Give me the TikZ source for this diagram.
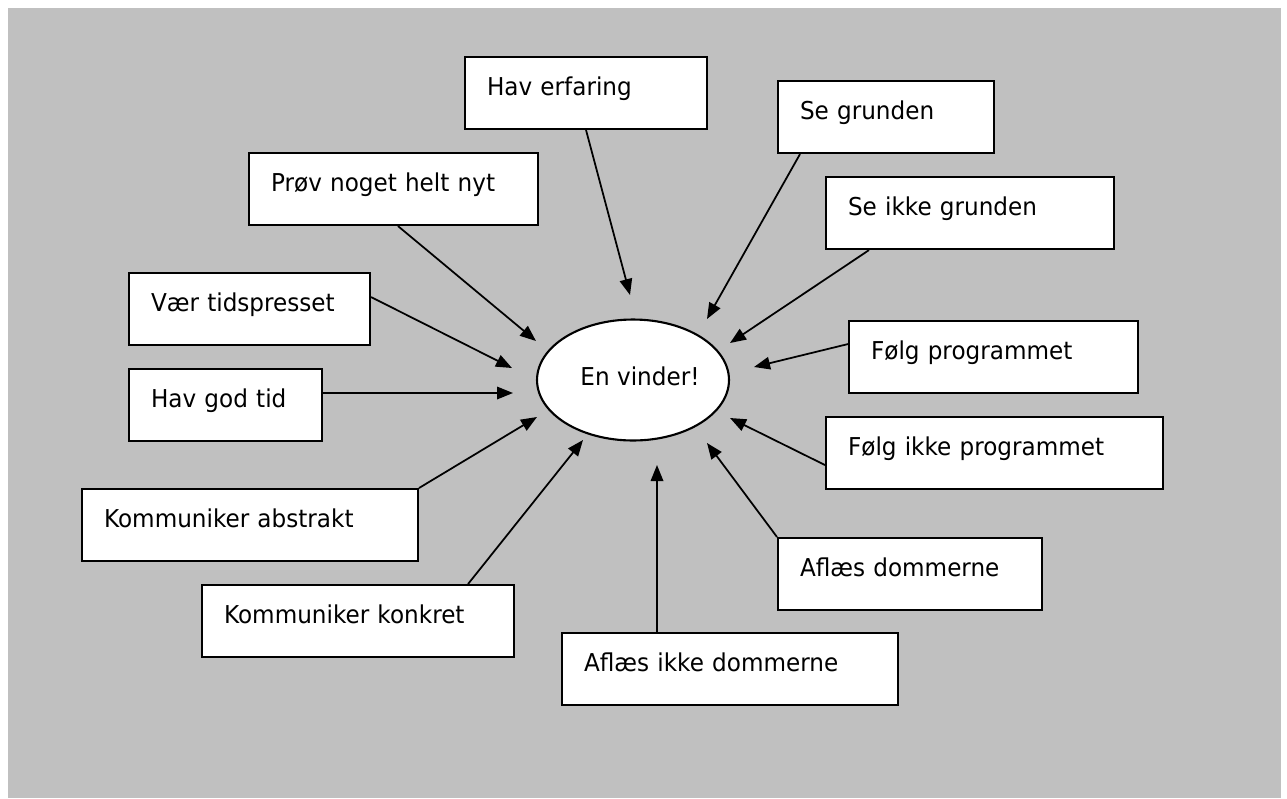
\documentclass[tikz,border=0pt]{standalone}
\usepackage{fontspec}
\setmainfont{DejaVu Sans}[FakeStretch=0.94]
\usetikzlibrary{arrows.meta,shapes.geometric}
\definecolor{baggrund}{RGB}{192,192,192}
\tikzset{
  boks/.style={draw, fill=white, line width=1.2pt, anchor=north west,
    inner xsep=0.44cm, inner ysep=0pt, text height=0.77cm, text depth=0.67cm,
    align=left, text width=#1},
  pil/.style={line width=1pt, -{Triangle[length=0.32cm,width=0.25cm]}}
}
\begin{document}
\begin{tikzpicture}[x=0.02cm, y=-0.02cm, font=\fontsize{14}{17}\selectfont]
        \useasboundingbox (0,0) rectangle (1287,798);
        \fill[baggrund] (8,8) rectangle (1281,798);
        % midten
        \node[draw, fill=white, line width=1.2pt, ellipse, inner sep=0pt, minimum width=3.84cm, minimum height=2.42cm] (vinder) at (633,380) {\raisebox{0.16cm}{\hspace{0.28cm}En vinder!}};
        % boksene
        \node[boks=3.96cm] (erfaring) at (464,56) {Hav erfaring};
        \node[boks=3.44cm] (grunden) at (777,80) {Se grunden};
        \node[boks=4.90cm] (nyt) at (248,152) {Prøv noget helt nyt};
        \node[boks=4.88cm] (ikkegrunden) at (825,176) {Se ikke grunden};
        \node[boks=3.94cm] (presset) at (128,272) {Vær tidspresset};
        \node[boks=4.90cm] (program) at (848,320) {Følg programmet};
        \node[boks=2.98cm] (godtid) at (128,368) {Hav god tid};
        \node[boks=5.86cm] (ikkeprogram) at (825,416) {Følg ikke programmet};
        \node[boks=5.84cm] (abstrakt) at (81,488) {Kommuniker abstrakt};
        \node[boks=4.40cm] (dommer) at (777,537) {Aflæs dommerne};
        \node[boks=5.36cm] (konkret) at (201,584) {Kommuniker konkret};
        \node[boks=5.84cm] (ikkedommer) at (561,632) {Aflæs ikke dommerne};
        % pilespidser
        \coordinate (s1) at (630,295);
        \coordinate (s2) at (707,319);
        \coordinate (s3) at (536,341);
        \coordinate (s4) at (730,343);
        \coordinate (s5) at (512,368);
        \coordinate (s6) at (513,393);
        \coordinate (s7) at (754,367);
        \coordinate (s8) at (730,418);
        \coordinate (s9) at (537,417);
        \coordinate (s10) at (583,440);
        \coordinate (s11) at (657,465);
        \coordinate (s12) at (707,443);
        % pilene
        \draw[pil] (erfaring.south) -- (s1);
        \draw[pil] ([xshift=0.46cm]grunden.south west) -- (s2);
        \draw[pil] ([xshift=0.09cm]nyt.south) -- (s3);
        \draw[pil] ([xshift=0.88cm]ikkegrunden.south west) -- (s4);
        \draw[pil] ([yshift=0.24cm]presset.east) -- (s5);
        \draw[pil] ([yshift=0.24cm]godtid.east) -- (s6);
        \draw[pil] ([yshift=0.26cm]program.west) -- (s7);
        \draw[pil] ([yshift=-0.24cm]ikkeprogram.west) -- (s8);
        \draw[pil] (abstrakt.north east) -- (s9);
        \draw[pil] ([xshift=-0.94cm]konkret.north east) -- (s10);
        \draw[pil] ([xshift=1.92cm]ikkedommer.north west) -- (s11);
        \draw[pil] (dommer.north west) -- (s12);
    \end{tikzpicture}
\end{document}
